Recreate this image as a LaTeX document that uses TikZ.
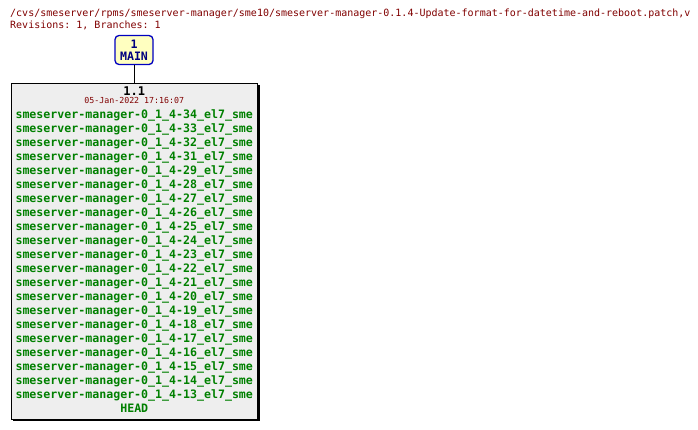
\documentclass[tikz,border=0pt]{standalone}
\usepackage{fontspec}
\setmonofont{DejaVu Sans Mono}
\usetikzlibrary{shadows}

\definecolor{cvsred}{HTML}{800000}
\definecolor{tagcol}{HTML}{008000}
\definecolor{branchcol}{HTML}{000080}
\definecolor{branchline}{HTML}{0000C0}
\definecolor{branchfill}{HTML}{FFFFC0}
\definecolor{revfill}{HTML}{EEEEEE}

\tikzset{
  hdr/.style={anchor=base west, inner sep=0pt, text=cvsred,
    font=\ttfamily\fontsize{10}{12}\selectfont},
  branchbox/.style={draw=branchline, line width=1.3pt, fill=branchfill,
    rounded corners=4pt, minimum width=38pt, minimum height=29pt,
    inner sep=0pt, align=center, text=branchcol,
    font=\ttfamily\bfseries\fontsize{11.6}{12}\selectfont},
  revbox/.style={draw=black, line width=1pt, fill=revfill,
    minimum width=246.5pt, minimum height=336pt, inner sep=0pt,
    drop shadow={shadow xshift=2pt, shadow yshift=-2pt, fill=black, opacity=1}},
  tagtext/.style={anchor=base, inner sep=0pt, text=tagcol,
    font=\ttfamily\bfseries\fontsize{11.6}{14}\selectfont},
}

\begin{document}
\begin{tikzpicture}[x=1pt,y=-1pt]

\useasboundingbox (0,0) rectangle (698,429);

% Header
\node[hdr] (file) at (10,16.5)
  {/cvs/smeserver/rpms/smeserver-manager/sme10/smeserver-manager-0.1.4-Update-format-for-datetime-and-reboot.patch,v};
\node[hdr] (counts) at (10,28.5) {Revisions: 1, Branches: 1};

% Branch
\node[branchbox] (main) at (134,50) {1\\MAIN};

% Revision
\node[revbox] (rev) at (134.25,251) {};
\draw[line width=1pt] (main.south) -- (main.south |- rev.north);

\node[anchor=base, inner sep=0pt, font=\ttfamily\bfseries\fontsize{12}{12}\selectfont]
  (revnum) at (134.25,95) {1.1};
\node[anchor=base, inner sep=0pt, text=cvsred, font=\ttfamily\fontsize{8.3}{9}\selectfont]
  (revdate) at (134.25,103) {05-Jan-2022 17:16:07};

% Tags
\foreach \t [count=\i from 0] in {34,33,32,31,29,28,27,26,25,24,23,22,21,20,19,18,17,16,15,14,13}
  \node[tagtext] (tag\t) at (134.25,118.5+14*\i) {smeserver-manager-0\_1\_4-\t\_el7\_sme};
\node[tagtext] (head) at (134.25,412.5) {HEAD};

\end{tikzpicture}
\end{document}
